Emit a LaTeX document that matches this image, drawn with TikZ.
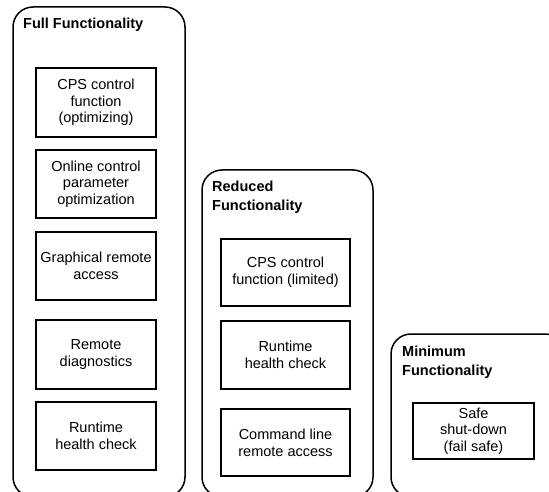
\documentclass[tikz,border=0pt]{standalone}
\usepackage{fontspec}
\setmainfont{Liberation Sans}
\begin{document}
\begin{tikzpicture}[x=1pt,y=-1pt,
  container/.style={draw=black, line width=1.5pt, rounded corners=20pt, inner sep=0pt},
  funcbox/.style={draw=black, line width=2pt, inner sep=1pt, align=center,
    font=\fontsize{14.5}{16.7}\selectfont},
  grouptitle/.style={anchor=west, inner sep=0pt, align=left,
    font=\fontsize{14.5}{18.5}\selectfont\bfseries}]
\useasboundingbox (0,0) rectangle (549,492);
\clip (0,0) rectangle (549,492);
\fill[white] (0,0) rectangle (549,492);
% containers
\node[container, minimum width=172pt, minimum height=490pt] (full) at (99,252) {};
\node[container, minimum width=171pt, minimum height=327pt] (reduced) at (287.5,333.5) {};
\node[container, minimum width=174pt, minimum height=163pt] (minimum) at (478,415.5) {};
% titles
\node[grouptitle] (tfull) at (23,25) {Full Functionality};
\node[grouptitle] (treduced) at (212,197.5) {Reduced\\Functionality};
\node[grouptitle] (tminimum) at (402,362) {Minimum\\Functionality};
% full functionality boxes
\node[funcbox, minimum width=120pt, minimum height=69pt] (f1) at (96,102.5) {CPS control\\function\\(optimizing)};
\node[funcbox, minimum width=120pt, minimum height=68pt] (f2) at (96,184) {Online control\\parameter\\optimization};
\node[funcbox, minimum width=120pt, minimum height=68pt] (f3) at (96,266) {Graphical remote\\access};
\node[funcbox, minimum width=120pt, minimum height=69pt] (f4) at (96,354.5) {Remote\\diagnostics};
\node[funcbox, minimum width=120pt, minimum height=68pt] (f5) at (96,436) {Runtime\\health check};
% reduced functionality boxes
\node[funcbox, minimum width=129pt, minimum height=67pt] (r1) at (285.5,272.5) {CPS control\\function (limited)};
\node[funcbox, minimum width=129pt, minimum height=68pt] (r2) at (285.5,355) {Runtime\\health check};
\node[funcbox, minimum width=129pt, minimum height=67pt] (r3) at (285.5,442.5) {Command line\\remote access};
% minimum functionality box
\node[funcbox, minimum width=121pt, minimum height=56pt] (m1) at (473.5,431) {Safe\\shut-down\\(fail safe)};
\end{tikzpicture}
\end{document}
